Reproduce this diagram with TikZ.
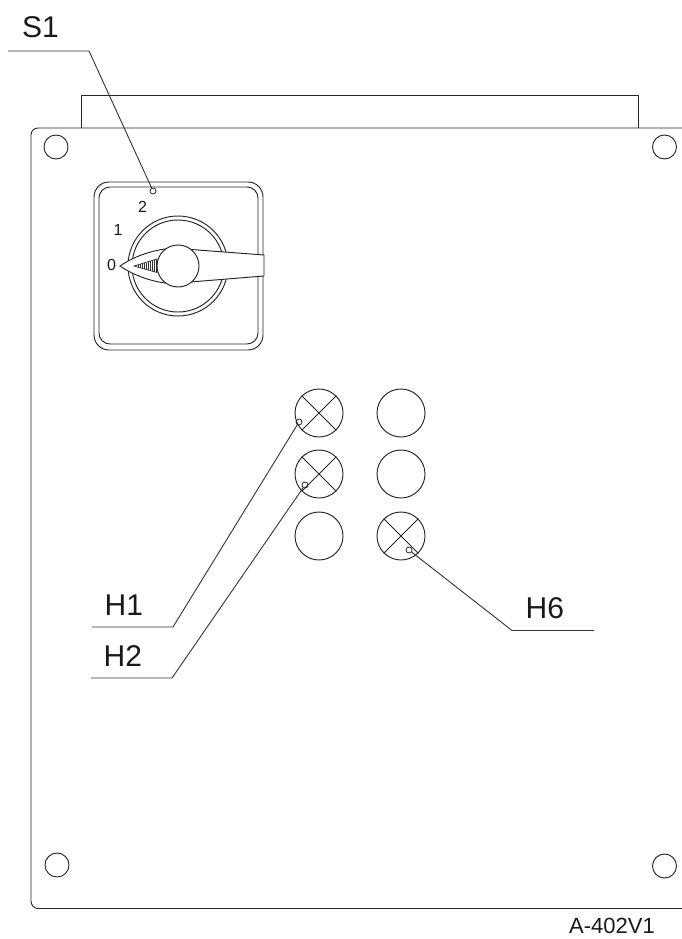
\documentclass[tikz,border=0pt]{standalone}
\usepackage{fontspec}
\setmainfont{Liberation Sans}
\tikzset{
  ln/.style={line width=0.95pt,draw=black!85},
  leader/.style={line width=0.9pt,draw=black!80},
  hole/.style={circle,ln,minimum size=24pt,inner sep=0pt},
  lamp/.style={circle,ln,minimum size=48pt,inner sep=0pt},
  dot/.style={circle,line width=0.8pt,draw=black!85,minimum size=6pt,inner sep=0pt},
  lab/.style={anchor=base west,inner sep=0pt,font=\fontsize{30}{30}\selectfont,text=black!90},
  scale label/.style={anchor=center,inner sep=0pt,font=\fontsize{16}{16}\selectfont,text=black!90},
}
\begin{document}
\begin{tikzpicture}[x=1pt,y=-1pt]
\useasboundingbox (0,0) rectangle (682,939);
% panel
\draw[ln] (81,128) -- (81,95) -- (638,95) -- (638,128);
\draw[ln] (682,128) -- (38,128) .. controls (34,128) and (31,131) .. (31,135) -- (31,901)
  .. controls (31,905) and (34,908.5) .. (38,908.5) -- (682,908.5);
\node[hole] (c1) at (56,147) {};
\node[hole] (c2) at (664.5,147) {};
\node[hole] (c3) at (57,865) {};
\node[hole] (c4) at (664.5,866) {};
% switch
\draw[ln,rounded corners=15pt] (94,182) rectangle (263,350);
\draw[ln,rounded corners=11pt] (99,187) rectangle (258,344);
\node[circle,ln,minimum size=100pt,inner sep=0pt] (k1) at (178,266) {};
\node[circle,ln,minimum size=92pt,inner sep=0pt] (k2) at (178,266) {};
\draw[ln,fill=white] (120,266) .. controls (133,257) and (150,251) .. (165,249)
  -- (178,248.5) -- (264,255) -- (264,276) -- (178,283) -- (165,283)
  .. controls (150,281) and (133,275) .. cycle;
\foreach \x in {138,140,...,156}{
  \pgfmathsetmacro{\h}{(\x-134)*6.5/23}
  \draw[line width=0.8pt,black!80] (\x,266-\h) -- (\x,266+\h);
}
\draw[line width=0.7pt,black!85] (134,266) -- (157,259) -- (157,272.5) -- cycle;
\node[circle,ln,fill=white,minimum size=42pt,inner sep=0pt] (hub) at (178,266) {};
\node[scale label] (n2) at (142.5,206.5) {2};
\node[scale label] (n1) at (118,230) {1};
\node[scale label] (n0) at (111.5,265) {0};
% lamps
\node[lamp] (l1) at (319,413) {};
\node[lamp] (l2) at (319,474) {};
\node[lamp] (l3) at (319,536) {};
\node[lamp] (l4) at (401,413) {};
\node[lamp] (l5) at (401,474) {};
\node[lamp] (l6) at (401,536) {};
\foreach \l in {l1,l2,l6}{
  \draw[ln] (\l.45) -- (\l.225);
  \draw[ln] (\l.135) -- (\l.315);
}
% dots
\node[dot] (ds1) at (153,191) {};
\node[dot] (dh1) at (299,422) {};
\node[dot] (dh2) at (305,485) {};
\node[dot] (dh6) at (409,550) {};
% labels
\node[lab] (s1) at (22,38) {S1};
\node[lab] (h1) at (104.5,615) {H1};
\node[lab] (h2) at (103.5,666) {H2};
\node[lab] (h6) at (525.5,618) {H6};
\node[anchor=base west,inner sep=0pt,font=\fontsize{22}{22}\selectfont,text=black!90] (ref) at (569,933) {A-402V1};
% leaders
\coordinate (as1) at (8,51); \coordinate (bs1) at (89,51);
\coordinate (ah1) at (92,627); \coordinate (bh1) at (173,627);
\coordinate (ah2) at (91,678); \coordinate (bh2) at (172,678);
\coordinate (ah6) at (594,630.5); \coordinate (bh6) at (512,630.5);
\draw[leader] (as1) -- (bs1) -- (ds1);
\draw[leader] (ah1) -- (bh1) -- (dh1);
\draw[leader] (ah2) -- (bh2) -- (dh2);
\draw[leader] (ah6) -- (bh6) -- (dh6);
\end{tikzpicture}
\end{document}
